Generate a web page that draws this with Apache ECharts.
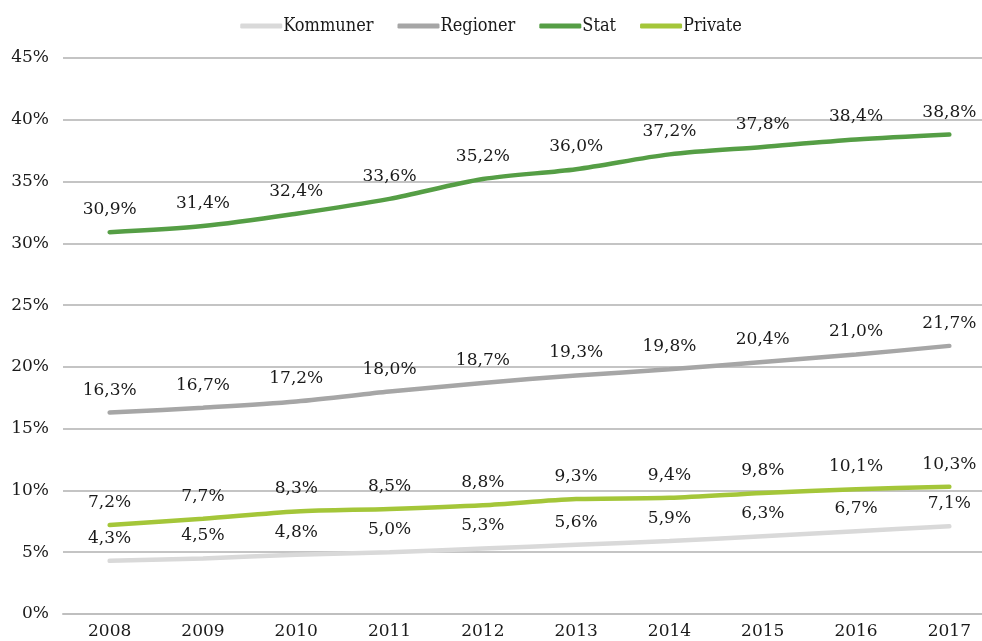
<!DOCTYPE html>
<html>
<head>
<meta charset="utf-8">
<script src="https://cdn.jsdelivr.net/npm/echarts@6/dist/echarts.min.js"></script>
<style>
  html, body { margin: 0; padding: 0; background: #fff; }
  #main { width: 982px; height: 641px; }
</style>
</head>
<body>
<div id="main"></div>
<script>
// år og andele (%)
const years = ['2008', '2009', '2010', '2011', '2012', '2013', '2014', '2015', '2016', '2017'];
const kommuner = [4.3, 4.5, 4.8, 5.0, 5.3, 5.6, 5.9, 6.3, 6.7, 7.1];
const regioner = [16.3, 16.7, 17.2, 18.0, 18.7, 19.3, 19.8, 20.4, 21.0, 21.7];
const stat = [30.9, 31.4, 32.4, 33.6, 35.2, 36.0, 37.2, 37.8, 38.4, 38.8];
const privat = [7.2, 7.7, 8.3, 8.5, 8.8, 9.3, 9.4, 9.8, 10.1, 10.3];

const font = 'DejaVu Serif';
const txt = '#1a1a1a';

function fmt(v) {
  return v.toFixed(1).replace('.', ',') + '%';
}

function line(name, data, color) {
  return {
    name: name,
    type: 'line',
    smooth: 0.3,
    symbol: 'circle',
    symbolSize: 0,
    showSymbol: true,
    data: data,
    lineStyle: { color: color, width: 4.5, cap: 'round' },
    itemStyle: { color: color },
    label: {
      show: true,
      position: 'top',
      distance: 14,
      color: txt,
      fontFamily: font,
      fontSize: 17,
      formatter: p => fmt(p.value)
    }
  };
}

const chart = echarts.init(document.getElementById('main'));
chart.setOption({
  animation: false,
  textStyle: { fontFamily: font },
  legend: {
    top: 12,
    left: 'center',
    icon: 'roundRect',
    itemWidth: 42,
    itemHeight: 5,
    itemGap: 24,
    textStyle: { fontFamily: 'DejaVu Serif Condensed', fontSize: 18, color: txt, padding: [0, 0, 0, -4] },
    data: ['Kommuner', 'Regioner', 'Stat', 'Private']
  },
  grid: { left: 63, right: -14, top: 58, bottom: 27, outerBoundsMode: 'none', containLabel: false },
  xAxis: {
    type: 'category',
    data: years,
    boundaryGap: true,
    axisLine: { show: true, lineStyle: { color: '#bfbfbf', width: 2 } },
    axisTick: { show: false },
    axisLabel: { color: txt, fontFamily: font, fontSize: 17, margin: 9 }
  },
  yAxis: {
    type: 'value',
    min: 0,
    max: 45,
    interval: 5,
    axisLine: { show: false },
    axisTick: { show: false },
    axisLabel: { color: txt, fontFamily: font, fontSize: 17, margin: 14, formatter: '{value}%' },
    splitLine: { lineStyle: { color: '#c4c4c4', width: 2 } }
  },
  series: [
    line('Kommuner', kommuner, '#d9d9d9'),
    line('Regioner', regioner, '#a6a6a6'),
    line('Stat', stat, '#559e45'),
    line('Private', privat, '#a4c639')
  ]
});
</script>
</body>
</html>
